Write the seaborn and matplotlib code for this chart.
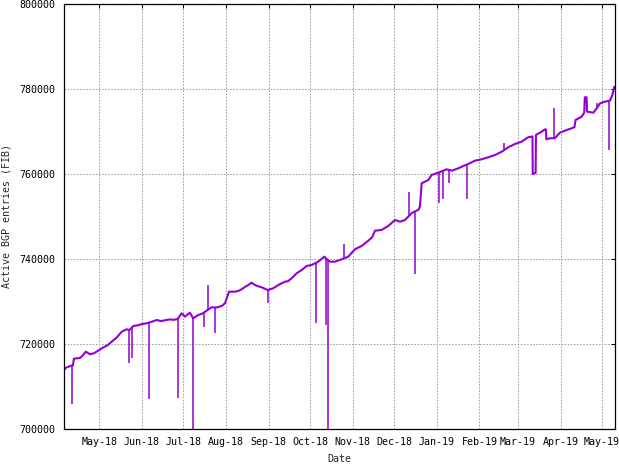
import pandas as pd
import matplotlib
matplotlib.use("Agg")
import matplotlib.pyplot as plt
import matplotlib.dates as mdates
from matplotlib.ticker import FuncFormatter
import seaborn as sns

# ---- Data (FIB size samples) ----
sample_times = [
    "2018-04-05 17:00", "2018-04-06 19:00", "2018-04-09 17:00", "2018-04-11 22:00",
    "2018-04-12 14:00", "2018-04-13 08:00", "2018-04-17 00:00", "2018-04-19 00:00",
    "2018-04-21 07:00", "2018-04-24 05:00", "2018-04-27 00:00", "2018-04-29 02:00",
    "2018-05-03 22:00", "2018-05-07 00:00", "2018-05-10 00:00", "2018-05-13 14:00",
    "2018-05-17 07:00", "2018-05-20 22:00", "2018-05-23 00:00", "2018-05-25 17:00",
    "2018-05-29 00:00", "2018-05-31 19:00", "2018-06-03 00:00", "2018-06-06 19:00",
    "2018-06-11 17:00", "2018-06-15 00:00", "2018-06-17 17:00", "2018-06-21 07:00",
    "2018-06-24 00:00", "2018-06-27 00:00", "2018-06-29 19:00", "2018-07-02 05:00",
    "2018-07-05 19:00", "2018-07-08 05:00", "2018-07-11 22:00", "2018-07-15 00:00",
    "2018-07-18 00:00", "2018-07-21 14:00", "2018-07-25 00:00", "2018-07-28 22:00",
    "2018-07-31 07:00", "2018-08-03 05:00", "2018-08-07 12:00", "2018-08-10 00:00",
    "2018-08-12 10:00", "2018-08-15 00:00", "2018-08-17 05:00", "2018-08-19 14:00",
    "2018-08-22 00:00", "2018-08-24 12:00", "2018-08-26 22:00", "2018-08-31 07:00",
    "2018-09-04 07:00", "2018-09-08 00:00", "2018-09-12 19:00", "2018-09-15 00:00",
    "2018-09-17 17:00", "2018-09-21 07:00", "2018-09-25 00:00", "2018-09-28 14:00",
    "2018-10-02 05:00", "2018-10-07 00:00", "2018-10-11 10:00", "2018-10-13 12:00",
    "2018-10-15 12:00", "2018-10-19 02:00", "2018-10-24 00:00", "2018-10-28 19:00",
    "2018-11-02 14:00", "2018-11-07 12:00", "2018-11-12 07:00", "2018-11-15 00:00",
    "2018-11-17 05:00", "2018-11-22 00:00", "2018-11-26 19:00", "2018-12-01 17:00",
    "2018-12-05 07:00", "2018-12-09 00:00", "2018-12-11 07:00", "2018-12-14 05:00",
    "2018-12-18 14:00", "2018-12-19 19:00", "2018-12-21 02:00", "2018-12-25 22:00",
    "2018-12-28 07:00", "2019-01-02 02:00", "2019-01-08 05:00", "2019-01-11 22:00",
    "2019-01-16 17:00", "2019-01-20 07:00", "2019-01-23 22:00", "2019-01-28 19:00",
    "2019-02-02 14:00", "2019-02-07 10:00", "2019-02-12 07:00", "2019-02-17 05:00",
    "2019-02-21 22:00", "2019-02-26 19:00", "2019-03-03 14:00", "2019-03-08 10:00",
    "2019-03-10 22:00", "2019-03-11 12:00", "2019-03-11 17:00", "2019-03-13 19:00",
    "2019-03-14 00:00", "2019-03-18 05:00", "2019-03-20 14:00", "2019-03-21 07:00",
    "2019-03-21 14:00", "2019-03-24 05:00", "2019-03-27 19:00", "2019-03-31 10:00",
    "2019-04-04 02:00", "2019-04-08 22:00", "2019-04-11 00:00", "2019-04-11 19:00",
    "2019-04-16 05:00", "2019-04-18 02:00", "2019-04-18 12:00", "2019-04-19 19:00",
    "2019-04-20 02:00", "2019-04-24 17:00", "2019-04-27 05:00", "2019-04-29 14:00",
    "2019-05-03 05:00", "2019-05-06 19:00", "2019-05-08 12:00", "2019-05-09 22:00",
]
fib_entries = [
    713900, 714300, 714700, 714900, 716400, 716500, 716600, 717200,
    718100, 717500, 717700, 718100, 719100, 719600, 720450, 721400,
    722800, 723370, 723200, 724150, 724300, 724600, 724700, 725000,
    725560, 725300, 725500, 725700, 725600, 725800, 727140, 726340,
    727280, 725960, 726740, 727100, 727750, 728550, 728500, 728860,
    729500, 732230, 732230, 732400, 732800, 733400, 733800, 734350,
    733800, 733500, 733260, 732630, 733030, 733800, 734590, 734700,
    735390, 736570, 737340, 738290, 738520, 739300, 740480, 739800,
    739300, 739300, 739860, 740480, 742220, 743000, 744250, 745000,
    746600, 746770, 747710, 749120, 748720, 749120, 749900, 750840,
    751480, 752250, 757770, 758550, 759730, 760270, 761060, 760740,
    761300, 761840, 762310, 763100, 763420, 763890, 764440, 765210,
    766250, 767030, 767570, 768610, 768750, 768800, 759960, 760200,
    769150, 769920, 770490, 770400, 768130, 768370, 768370, 769690,
    770160, 770720, 771000, 772680, 773460, 774400, 778030, 778030,
    774640, 774400, 775440, 776620, 777000, 777230, 778570, 780530,
]

# short-lived glitches: time, level before glitch, level at glitch
spike_times = [
    "2018-04-10 23:00", "2018-05-22 07:00", "2018-05-25 00:00", "2018-06-06 02:00",
    "2018-06-27 10:00", "2018-07-08 05:00", "2018-07-16 05:00", "2018-07-19 02:00",
    "2018-07-24 05:00", "2018-08-31 07:00", "2018-10-05 12:00", "2018-10-12 19:00",
    "2018-10-14 07:00", "2018-10-25 10:00", "2018-12-12 02:00", "2018-12-16 05:00",
    "2019-01-02 22:00", "2019-01-05 19:00", "2019-01-09 14:00", "2019-01-23 05:00",
    "2019-02-19 00:00", "2019-03-26 22:00", "2019-04-27 12:00", "2019-05-06 07:00",
]
spike_base = [
    714800, 723300, 723800, 724900, 725800, 725960, 727300, 728000,
    728500, 732630, 738900, 740100, 739500, 740000, 750100, 751100,
    760300, 760600, 760900, 762200, 765700, 768370, 775500, 777200,
]
spike_tip = [
    705700, 715500, 716700, 706900, 707260, 695000, 723840, 733800,
    722570, 729500, 724930, 724380, 695000, 743470, 755790, 736330,
    753060, 754000, 757770, 754000, 767190, 775440, 776760, 765610,
]

month_ticks = pd.date_range("2018-05-01", "2019-05-01", freq="MS")

df = pd.DataFrame({"Date": pd.to_datetime(sample_times), "FIB": fib_entries})
spikes = pd.DataFrame({"Date": pd.to_datetime(spike_times),
                       "base": spike_base, "tip": spike_tip})

# ---- Style (gnuplot look) ----
sns.set_theme(style="white")
plt.rcParams["font.family"] = ["DejaVu Sans Mono", "DejaVu Sans"]
plt.rcParams["font.size"] = 7.2
line_color = "#9400d3"

fig = plt.figure(figsize=(6.19, 4.65), dpi=100)
ax = fig.add_axes([64 / 619, 1 - 428.5 / 465, 551 / 619, 424.5 / 465])

sns.lineplot(data=df, x="Date", y="FIB", color=line_color, linewidth=1.5,
             estimator=None, ax=ax)
ax.vlines(spikes["Date"], spikes["base"], spikes["tip"], color=line_color,
          linewidth=1.1)

ax.set_xlim(pd.Timestamp("2018-04-05 10:00"), pd.Timestamp("2019-05-10 10:00"))
ax.set_ylim(700000, 800000)
ax.set_xticks(month_ticks)
ax.xaxis.set_major_formatter(mdates.DateFormatter("%b-%y"))
ax.set_yticks(range(700000, 800001, 20000))
ax.yaxis.set_major_formatter(FuncFormatter(lambda v, p: f"{int(v)}"))

ax.grid(True, color="#a0a0a0", linestyle=(0, (1.5, 1.5)), linewidth=0.75)
ax.tick_params(direction="in", length=3, width=0.75, top=True, right=True,
               colors="black", labelsize=7.2, pad=6)
for s in ax.spines.values():
    s.set_color("black")
    s.set_linewidth(0.9)

ax.set_xlabel("Date", fontsize=7.2, labelpad=5)
ax.set_ylabel("Active BGP entries (FIB)", fontsize=7.2, labelpad=6)

fig.savefig("out.png", dpi=100)
